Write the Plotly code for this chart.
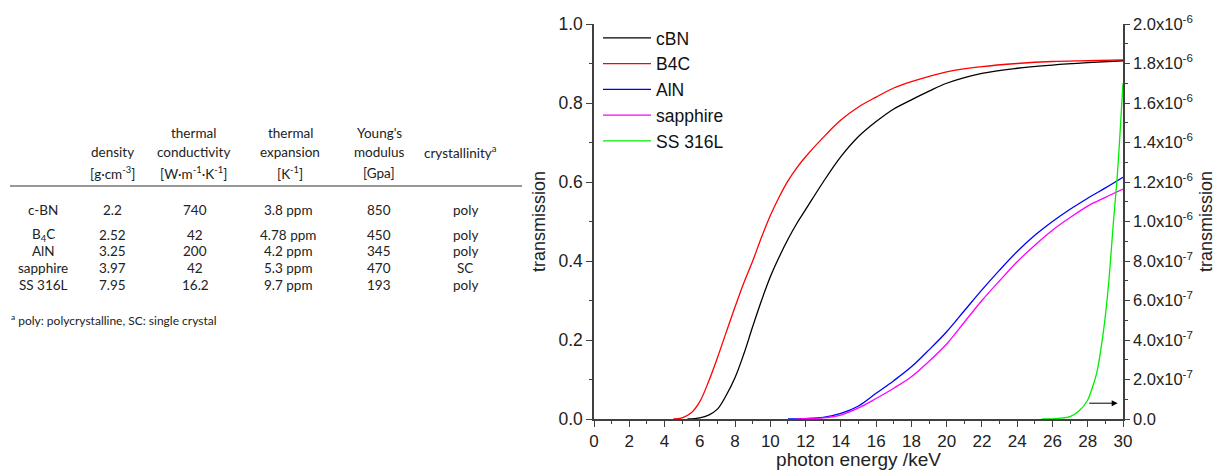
import plotly.graph_objects as go

# ---------------- data ----------------
cbn_x = [5.3, 6, 6.5, 7, 7.5, 8, 8.5, 9, 9.5, 10, 10.5, 11, 11.5, 12, 13, 14, 15, 16, 17, 18, 19, 20, 22, 24, 26, 28, 30]
cbn_y = [0.0, 0.003, 0.01, 0.025, 0.06, 0.105, 0.165, 0.234, 0.30, 0.36, 0.41, 0.455, 0.495, 0.53, 0.60, 0.664, 0.715,
         0.753, 0.785, 0.808, 0.83, 0.85, 0.875, 0.888, 0.896, 0.902, 0.907]

b4c_x = [4.5, 5, 5.5, 6, 6.5, 7, 7.5, 8, 8.5, 9, 9.5, 10, 10.5, 11, 11.5, 12, 13, 14, 15, 16, 17, 18, 20, 22, 24, 26, 28, 30]
b4c_y = [0.0, 0.003, 0.015, 0.044, 0.095, 0.155, 0.22, 0.284, 0.345, 0.40, 0.46, 0.515, 0.562, 0.603, 0.636, 0.664, 0.713,
         0.757, 0.79, 0.815, 0.838, 0.854, 0.879, 0.892, 0.90, 0.905, 0.907, 0.909]

aln_x = [11, 12, 13, 14, 15, 16, 17, 18, 19, 20, 21, 22, 23, 24, 25, 26, 27, 28, 29, 30]
aln_y = [0.0, 0.001, 0.004, 0.014, 0.033, 0.065, 0.097, 0.132, 0.175, 0.221, 0.274, 0.327, 0.377, 0.424, 0.465, 0.50,
         0.531, 0.559, 0.585, 0.612]

sap_x = [11.5, 12, 13, 14, 15, 16, 17, 18, 19, 20, 21, 22, 23, 24, 25, 26, 27, 28, 29, 30]
sap_y = [0.0, 0.001, 0.003, 0.01, 0.028, 0.052, 0.078, 0.107, 0.146, 0.19, 0.245, 0.30, 0.35, 0.398, 0.44, 0.478,
         0.51, 0.539, 0.561, 0.582]

ss_x = [25.4, 26, 26.5, 27, 27.5, 28, 28.5, 28.9, 29.2, 29.45, 29.65, 29.8, 30]
ss_y = [0.0, 0.001e-6, 0.004e-6, 0.012e-6, 0.04e-6, 0.096e-6, 0.23e-6, 0.45e-6, 0.70e-6, 0.99e-6, 1.2e-6, 1.4e-6, 1.70e-6]

series_names = ["cBN", "B4C", "AlN", "sapphire", "SS 316L"]
series_colors = ["#000000", "#ff0000", "#0000ff", "#ff00ff", "#00ee00"]

y2_tickvals = [0, 2e-7, 4e-7, 6e-7, 8e-7, 1e-6, 1.2e-6, 1.4e-6, 1.6e-6, 1.8e-6, 2e-6]
y2_ticktext = ["0.0", "2.0x10<sup>-7</sup>", "4.0x10<sup>-7</sup>", "6.0x10<sup>-7</sup>", "8.0x10<sup>-7</sup>",
               "1.0x10<sup>-6</sup>", "1.2x10<sup>-6</sup>", "1.4x10<sup>-6</sup>", "1.6x10<sup>-6</sup>",
               "1.8x10<sup>-6</sup>", "2.0x10<sup>-6</sup>"]

# table data
tbl_header1 = ["", "", "thermal", "thermal", "Young's", ""]
tbl_header2 = ["", "density", "conductivity", "expansion", "modulus", "crystallinity<sup>a</sup>"]
tbl_units = ["", "[g·cm<sup>-3</sup>]", "[W·m<sup>-1</sup>·K<sup>-1</sup>]", "[K<sup>-1</sup>]", "[Gpa]", ""]
tbl_materials = ["c-BN", "B<sub>4</sub>C", "AlN", "sapphire", "SS 316L"]
tbl_density = ["2.2", "2.52", "3.25", "3.97", "7.95"]
tbl_conductivity = ["740", "42", "200", "42", "16.2"]
tbl_expansion = ["3.8 ppm", "4.78 ppm", "4.2 ppm", "5.3 ppm", "9.7 ppm"]
tbl_modulus = ["850", "450", "345", "470", "193"]
tbl_crystallinity = ["poly", "poly", "poly", "SC", "poly"]
tbl_footnote = "<sup>a</sup> poly: polycrystalline, SC: single crystal"

# ---------------- layout geometry ----------------
W, H = 1216, 470
L, R, T, B = 594, 93, 24, 51
PW = W - L - R
PH = H - T - B


def px2x(px):
    return (px - L) / PW


def py2y(py):
    return (H - B - py) / PH


fig = go.Figure()
xs = [cbn_x, b4c_x, aln_x, sap_x]
ys = [cbn_y, b4c_y, aln_y, sap_y]
for i in range(4):
    fig.add_trace(go.Scatter(x=xs[i], y=ys[i], mode="lines", name=series_names[i],
                             line=dict(color=series_colors[i], width=1.3, shape="spline", smoothing=1.0)))
fig.add_trace(go.Scatter(x=ss_x, y=ss_y, mode="lines", name=series_names[4], yaxis="y2",
                         line=dict(color=series_colors[4], width=1.3, shape="spline", smoothing=0.6)))

axis_col = "#404040"
font_plot = "Liberation Sans, Arial, sans-serif"

fig.update_layout(
    width=W, height=H,
    margin=dict(l=L, r=R, t=T, b=B, autoexpand=False),
    paper_bgcolor="white", plot_bgcolor="white",
    font=dict(family=font_plot, size=17, color="#222222"),
    showlegend=True,
    legend=dict(x=px2x(598), y=py2y(20), xanchor="left", yanchor="top",
                font=dict(size=17.5, color="#111111"), bgcolor="rgba(0,0,0,0)",
                tracegroupgap=0, itemwidth=48),
    xaxis=dict(range=[0, 30], dtick=2, tick0=0, ticks="outside", ticklen=6, tickwidth=1.3,
               tickcolor=axis_col, showline=True, linecolor=axis_col, linewidth=1.5,
               showgrid=False, zeroline=False, tickfont=dict(size=17),
               minor=dict(dtick=1, ticks="outside", ticklen=3, tickcolor=axis_col, tickwidth=1.2),
               title=dict(text="photon energy /keV", font=dict(size=19), standoff=0)),
    yaxis=dict(range=[0, 1], dtick=0.2, tick0=0, tickformat=".1f", ticks="outside", ticklen=6, tickwidth=1.3,
               tickcolor=axis_col, showline=True, linecolor=axis_col, linewidth=1.5,
               showgrid=False, zeroline=False, tickfont=dict(size=17.5),
               minor=dict(dtick=0.1, ticks="outside", ticklen=3, tickcolor=axis_col, tickwidth=1.2),
               title=dict(text="transmission", font=dict(size=18), standoff=8)),
    yaxis2=dict(range=[0, 2e-6], overlaying="y", side="right", tickvals=y2_tickvals, ticktext=y2_ticktext,
                ticks="outside", ticklen=5, tickwidth=1.3, tickcolor=axis_col, showline=True,
                linecolor=axis_col, linewidth=1.5, showgrid=False, zeroline=False, tickfont=dict(size=16.5),
                minor=dict(dtick=1e-7, ticks="outside", ticklen=3, tickcolor=axis_col, tickwidth=1.2),
                title=dict(text="transmission", font=dict(size=18), standoff=20)),
)

# arrow pointing to the right axis
fig.add_annotation(x=29.7, y=0.08e-6, xref="x", yref="y2", ax=28.0, ay=0.08e-6, axref="x", ayref="y2",
                   showarrow=True, arrowhead=2, arrowsize=1.2, arrowwidth=1, arrowcolor="#000000", text="")

# ---------------- table (annotations) ----------------
tf = dict(family="Lato, Carlito, sans-serif", size=13.5, color="#222222")
col_px_header = [43, 112, 193, 290, 379, 460]
col_px_values = [43, 112, 195, 288, 379, 465]
row_py = [210, 235, 251, 268, 285]


def add_text(txt, px, py, font=tf, anchor="center"):
    if txt == "":
        return
    fig.add_annotation(text=txt, x=px2x(px), y=py2y(py), xref="paper", yref="paper",
                       xanchor=anchor, yanchor="middle", showarrow=False, font=font)


for j in range(6):
    add_text(tbl_header1[j], col_px_header[j], 133)
    add_text(tbl_header2[j], col_px_header[j], 152)
    add_text(tbl_units[j], col_px_header[j], 173)

cols = [tbl_materials, tbl_density, tbl_conductivity, tbl_expansion, tbl_modulus, tbl_crystallinity]
for j, col in enumerate(cols):
    for i, v in enumerate(col):
        add_text(v, col_px_values[j], row_py[i])

add_text(tbl_footnote, 9, 320, font=dict(family="Lato, Carlito, sans-serif", size=12, color="#222222"),
         anchor="left")

fig.add_shape(type="line", xref="paper", yref="paper", x0=px2x(10), x1=px2x(522), y0=py2y(186), y1=py2y(186),
              line=dict(color="#333333", width=1.2))

fig.write_html("out.html", config={"displayModeBar": False},
               post_script="document.body.style.margin='0px';")
